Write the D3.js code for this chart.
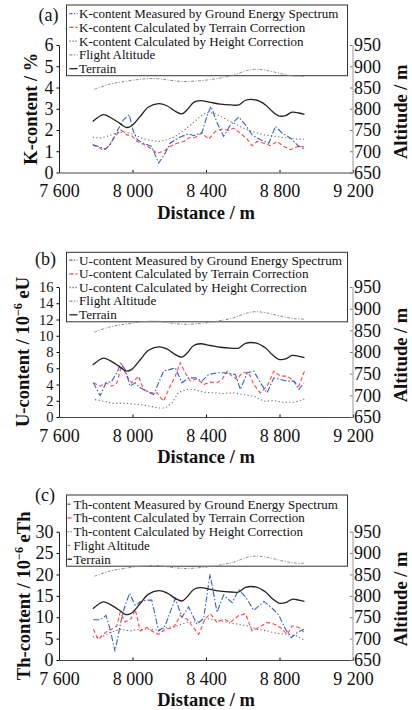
<!DOCTYPE html>
<html><head><meta charset="utf-8">
<script src="https://cdn.jsdelivr.net/npm/d3@7"></script>
<style>body{margin:0;background:#fff}svg{display:block}</style>
</head><body>
<svg id="chart" width="412" height="710"></svg>
<script>
// ---------- data ----------
const distanceTicks = [7600, 8000, 8400, 8800, 9200];
const altitudeTicks = [650, 700, 750, 800, 850, 900, 950];
const kTicks = [0, 1, 2, 3, 4, 5, 6];
const uTicks = [0, 2, 4, 6, 8, 10, 12, 14, 16];
const thTicks = [0, 5, 10, 15, 20, 25, 30];

const terrainDist = [7784, 7842, 7878, 7933, 7965, 7996, 8042, 8087, 8142, 8187, 8233, 8269, 8296, 8333, 8369, 8424, 8478, 8533, 8578, 8615, 8678, 8724, 8760, 8796, 8833, 8869, 8905, 8936];
const terrainAlt  = [770, 786, 780, 765, 756, 760, 782, 804, 812, 807, 794, 788, 797, 815, 819, 815, 811, 809, 809, 820, 820, 809, 794, 783, 784, 792, 790, 787];

const flightDist = [7793, 7878, 7969, 8060, 8133, 8205, 8278, 8369, 8460, 8551, 8624, 8669, 8733, 8824, 8878, 8933];
const flightAlt  = [846, 858, 865, 870, 871, 867, 864, 866, 871, 879, 890, 893, 890, 881, 877, 876];

const kMeasDist = [7784, 7815, 7851, 7878, 7915, 7951, 7982, 8005, 8027, 8060, 8105, 8142, 8178, 8205, 8233, 8269, 8305, 8333, 8378, 8405, 8427, 8460, 8496, 8533, 8578, 8615, 8651, 8696, 8742, 8778, 8815, 8860, 8896, 8933];
const kMeas     = [1.30, 1.22, 1.10, 1.30, 1.93, 2.48, 2.72, 1.93, 1.54, 1.38, 1.22, 0.44, 0.91, 1.38, 1.54, 1.70, 1.82, 1.73, 1.88, 2.64, 3.11, 2.35, 1.70, 2.24, 2.61, 2.24, 1.77, 1.54, 1.38, 2.17, 1.85, 1.62, 1.30, 1.11];
const kTerrDist = [7784, 7815, 7842, 7869, 7905, 7936, 7969, 7996, 8024, 8060, 8096, 8133, 8169, 8205, 8242, 8278, 8305, 8342, 8378, 8415, 8451, 8487, 8524, 8551, 8587, 8624, 8651, 8678, 8715, 8751, 8787, 8824, 8860, 8896, 8933];
const kTerr     = [1.30, 1.19, 1.04, 1.22, 1.70, 2.01, 1.77, 1.73, 1.46, 1.33, 1.15, 0.91, 0.99, 1.22, 1.38, 1.46, 1.62, 1.66, 1.85, 1.57, 1.93, 2.04, 1.98, 2.09, 1.85, 1.57, 1.26, 1.46, 1.38, 1.26, 1.46, 1.22, 1.07, 1.22, 1.22];
const kHgtDist  = [7784, 7824, 7869, 7915, 7960, 8005, 8051, 8096, 8142, 8187, 8233, 8278, 8324, 8369, 8405, 8442, 8487, 8533, 8578, 8624, 8669, 8715, 8760, 8805, 8851, 8896, 8933];
const kHgt      = [1.66, 1.62, 1.72, 1.88, 1.90, 1.80, 1.62, 1.51, 1.46, 1.54, 1.70, 1.98, 2.29, 2.64, 2.83, 2.79, 2.61, 2.40, 2.20, 2.01, 1.88, 1.77, 1.73, 1.66, 1.62, 1.57, 1.57];

const uMeasDist = [7787, 7824, 7856, 7887, 7915, 7936, 7960, 7987, 8015, 8042, 8078, 8115, 8142, 8169, 8205, 8233, 8269, 8305, 8342, 8378, 8415, 8460, 8496, 8533, 8560, 8587, 8624, 8660, 8696, 8733, 8769, 8805, 8842, 8878, 8905, 8933];
const uMeas     = [4.21, 2.64, 4.21, 4.41, 5.44, 6.60, 5.86, 3.79, 4.21, 3.59, 3.18, 2.76, 4.21, 5.65, 5.86, 6.06, 4.21, 4.82, 4.82, 4.41, 5.24, 5.44, 5.44, 5.32, 5.24, 3.38, 5.44, 5.65, 4.21, 2.97, 4.82, 4.62, 4.41, 4.41, 3.38, 4.21];
const uTerrDist = [7787, 7824, 7856, 7887, 7915, 7942, 7969, 7996, 8033, 8060, 8096, 8133, 8169, 8196, 8233, 8260, 8287, 8315, 8351, 8387, 8424, 8460, 8487, 8515, 8542, 8569, 8596, 8633, 8660, 8696, 8733, 8769, 8805, 8842, 8878, 8905, 8936];
const uTerr     = [4.21, 3.79, 4.21, 3.79, 4.21, 6.47, 5.03, 4.21, 5.03, 3.38, 2.97, 2.97, 1.94, 3.38, 5.03, 6.68, 5.44, 4.41, 4.70, 4.00, 4.29, 4.21, 4.62, 5.65, 5.03, 4.62, 5.44, 5.44, 4.00, 2.97, 3.79, 5.65, 5.03, 5.03, 4.41, 3.79, 5.65];
const uHgtDist  = [7796, 7842, 7896, 7942, 7996, 8042, 8096, 8142, 8178, 8215, 8251, 8296, 8333, 8387, 8442, 8496, 8551, 8605, 8660, 8715, 8769, 8824, 8878, 8915, 8936];
const uHgt      = [2.14, 1.94, 1.65, 1.73, 1.61, 1.53, 1.32, 1.11, 1.11, 1.73, 3.05, 3.38, 3.38, 3.05, 2.97, 2.89, 2.97, 2.76, 2.56, 1.94, 2.02, 1.81, 1.81, 2.02, 2.23];

const thMeasDist = [7787, 7824, 7856, 7878, 7905, 7936, 7955, 7984, 8015, 8042, 8078, 8105, 8142, 8178, 8205, 8233, 8269, 8305, 8351, 8387, 8422, 8460, 8496, 8542, 8578, 8615, 8660, 8715, 8760, 8796, 8833, 8864, 8896, 8933];
const thMeas     = [9.4, 9.4, 10.4, 7.2, 2.0, 8.8, 12.1, 15.6, 12.8, 13.6, 14.0, 14.0, 6.8, 8.0, 11.2, 14.4, 10.0, 12.4, 8.4, 9.7, 20.1, 11.2, 15.2, 13.4, 16.4, 14.8, 11.6, 13.7, 12.1, 10.5, 7.2, 5.2, 6.4, 7.2];
const thTerrDist = [7787, 7814, 7851, 7887, 7915, 7933, 7960, 7993, 8015, 8042, 8078, 8115, 8142, 8178, 8224, 8260, 8296, 8324, 8360, 8396, 8424, 8460, 8496, 8533, 8578, 8615, 8651, 8687, 8733, 8769, 8805, 8842, 8869, 8905, 8933];
const thTerr     = [7.2, 4.8, 6.4, 7.2, 8.0, 11.2, 8.9, 9.7, 11.8, 6.8, 7.6, 6.5, 6.0, 7.2, 7.6, 10.4, 9.6, 8.0, 6.0, 9.7, 10.8, 8.8, 9.6, 8.8, 10.4, 10.8, 6.8, 7.6, 8.8, 8.4, 7.6, 6.0, 8.0, 7.6, 6.5];
const thHgtDist  = [7784, 7824, 7878, 7933, 7987, 8033, 8078, 8133, 8187, 8242, 8296, 8351, 8405, 8460, 8515, 8569, 8624, 8678, 8733, 8787, 8842, 8896, 8936];
const thHgt      = [5.4, 5.2, 6.4, 7.2, 6.8, 7.2, 7.2, 7.0, 7.6, 8.0, 8.8, 8.9, 9.7, 9.2, 8.8, 8.4, 8.0, 7.2, 6.8, 6.2, 6.0, 5.6, 4.6];

const kNames  = ["K-content Measured by Ground Energy Spectrum", "K-content Calculated by Terrain Correction", "K-content Calculated by Height Correction", "Flight Altitude", "Terrain"];
const uNames  = ["U-content Measured by Ground Energy Spectrum", "U-content Calculated by Terrain Correction", "U-content Calculated by Height Correction", "Flight Altitude", "Terrain"];
const thNames = ["Th-content Measured by Ground Energy Spectrum", "Th-content Calculated by Terrain Correction", "Th-content Calculated by Height Correction", "Flight Altitude", "Terrain"];

// ---------- styles ----------
const styles = [
  {color: "#3560cc", dash: "6,2,1.5,2", legDash: "3,1.5,1.2,1.5", width: 1.1},   // measured
  {color: "#ff4545", dash: "4,2.5", legDash: "4,2", width: 1.1},                 // terrain corr
  {color: "#6a6a6a", dash: "1.2,2.4", legDash: "1.2,1.8", width: 1.1},           // height corr
  {color: "#8e8e8e", dash: "3,1.5,1,1.5", legDash: "3,1.5,1.2,1.5", width: 1.0}, // flight altitude
  {color: "#222222", dash: null, legDash: null, width: 1.3}                      // terrain
];

const zip = (xs, ys) => xs.map((d, i) => ({x: d, y: ys[i]}));

const panels = [
  {label: "(a)", title: ["K-content / %"], yDomain: [0, 6], yTicks: kTicks, names: kNames, tickFont: 18,
   series: [zip(kMeasDist, kMeas), zip(kTerrDist, kTerr), zip(kHgtDist, kHgt)],
   top: 45, bottom: 172.5, legTop: 5, legFirst: 18, legStep: 13.75, legFont: 13, sampleX: [69.5, 77.5], textX: 79,
   titleX: 36.5, labelX: 38.5, labelY: 20.5},
  {label: "(b)", title: ["U-content / 10", "−6", " eU"], yDomain: [0, 16], yTicks: uTicks, names: uNames, tickFont: 14.6,
   series: [zip(uMeasDist, uMeas), zip(uTerrDist, uTerr), zip(uHgtDist, uHgt)],
   top: 287, bottom: 417, legTop: 252.3, legFirst: 264.5, legStep: 13.65, legFont: 13.2, sampleX: [69.5, 77.5], textX: 79,
   titleX: 29, labelX: 35, labelY: 265},
  {label: "(c)", title: ["Th-content / 10", "−6", " eTh"], yDomain: [0, 30], yTicks: thTicks, names: thNames, tickFont: 18,
   series: [zip(thMeasDist, thMeas), zip(thTerrDist, thTerr), zip(thHgtDist, thHgt)],
   top: 531.7, bottom: 660, legTop: 495, legFirst: 508.5, legStep: 13.75, legFont: 13, sampleX: [67.5, 72], textX: 73.5,
   titleX: 30, labelX: 35, labelY: 500.5}
];

const svg = d3.select("#chart");
const SERIF = "'Liberation Serif','Times New Roman',serif";
const fmt = d3.formatLocale({decimal: ".", thousands: " ", grouping: [3], currency: ["", ""]}).format(",d");

const x = d3.scaleLinear().domain([7600, 9200]).range([59, 353]);

panels.forEach(p => {
  const g = svg.append("g");
  const y = d3.scaleLinear().domain(p.yDomain).range([p.bottom, p.top]);
  const y2 = d3.scaleLinear().domain([650, 950]).range([p.bottom, p.top]);

  // legend box (drawn first, lines pass over it)
  const leg = g.append("g");
  const legBottom = p.legFirst + 4 * p.legStep + 2.7;
  leg.append("rect").attr("x", 66.5).attr("y", p.legTop).attr("width", 281).attr("height", legBottom - p.legTop)
    .attr("fill", "none").attr("stroke", "#333").attr("stroke-width", 1);
  p.names.forEach((n, i) => {
    const by = p.legFirst + i * p.legStep;
    const s = styles[i];
    leg.append("line").attr("x1", p.sampleX[0]).attr("x2", p.sampleX[1]).attr("y1", by - 4.3).attr("y2", by - 4.3)
      .attr("stroke", s.color).attr("stroke-width", 1.3).attr("stroke-dasharray", s.legDash);
    leg.append("text").attr("x", p.textX).attr("y", by).text(n)
      .attr("font-family", SERIF).attr("font-size", p.legFont).attr("fill", "#111");
  });

  // axes
  const ax = g.append("g").attr("transform", `translate(0,${p.bottom})`)
    .call(d3.axisBottom(x).tickValues(distanceTicks).tickFormat(fmt).tickSize(-2.5).tickSizeOuter(0));
  ax.selectAll("text").attr("y", 24.5).attr("dy", null);

  const ay = g.append("g").attr("transform", "translate(59,0)")
    .call(d3.axisLeft(y).tickValues(p.yTicks).tickFormat(d3.format("d")).tickSize(2.5).tickPadding(3).tickSizeOuter(0));

  const ar = g.append("g").attr("transform", "translate(352.5,0)")
    .call(d3.axisRight(y2).tickValues(altitudeTicks).tickFormat(d3.format("d")).tickSize(-2.5).tickPadding(1.5).tickSizeOuter(0));
  ar.select(".domain").attr("stroke", "#999");
  ar.selectAll(".tick line").attr("stroke", "#777");

  [ax, ay, ar].forEach(a => {
    a.selectAll("text").attr("font-family", SERIF).attr("font-size", 18).attr("fill", "#111");
    a.select(".domain").attr("stroke-width", 1);
  });
  ay.selectAll("text").attr("font-size", p.tickFont);
  ax.select(".domain").attr("stroke", "#444");
  ay.select(".domain").attr("stroke", "#222");

  // series lines
  const lineK = d3.line().x(d => x(d.x)).y(d => y(d.y));
  const lineAlt = d3.line().x(d => x(d.x)).y(d => y2(d.y)).curve(d3.curveCatmullRom.alpha(0.5));
  g.append("path").datum(zip(flightDist, flightAlt)).attr("d", lineAlt).attr("fill", "none")
    .attr("stroke", styles[3].color).attr("stroke-width", styles[3].width).attr("stroke-dasharray", styles[3].dash);
  [2, 1, 0].forEach(i => {
    g.append("path").datum(p.series[i]).attr("d", lineK).attr("fill", "none")
      .attr("stroke", styles[i].color).attr("stroke-width", styles[i].width).attr("stroke-dasharray", styles[i].dash);
  });
  g.append("path").datum(zip(terrainDist, terrainAlt)).attr("d", lineAlt).attr("fill", "none")
    .attr("stroke", styles[4].color).attr("stroke-width", styles[4].width);

  // panel label
  g.append("text").attr("x", p.labelX).attr("y", p.labelY).text(p.label)
    .attr("font-family", SERIF).attr("font-size", 18).attr("fill", "#111");

  // left title
  const cy = (p.top + p.bottom) / 2;
  const lt = g.append("text").attr("transform", `translate(${p.titleX},${cy}) rotate(-90)`)
    .attr("text-anchor", "middle").attr("font-family", SERIF).attr("font-weight", "bold").attr("font-size", 18.5).attr("fill", "#111");
  lt.append("tspan").text(p.title[0]);
  if (p.title.length > 1) {
    lt.append("tspan").attr("dy", -7).attr("font-size", 12).text(p.title[1]);
    lt.append("tspan").attr("dy", 7).text(p.title[2]);
  }
  // right title
  g.append("text").attr("transform", `translate(406.5,${cy + 3}) rotate(-90)`)
    .attr("text-anchor", "middle").attr("font-family", SERIF).attr("font-weight", "bold").attr("font-size", 18.5).attr("fill", "#111")
    .text("Altitude / m");
  // x title
  g.append("text").attr("x", 206).attr("y", p.bottom + 46).attr("text-anchor", "middle")
    .attr("font-family", SERIF).attr("font-weight", "bold").attr("font-size", 18.5).attr("fill", "#111")
    .text("Distance / m");
});
</script>
</body></html>
